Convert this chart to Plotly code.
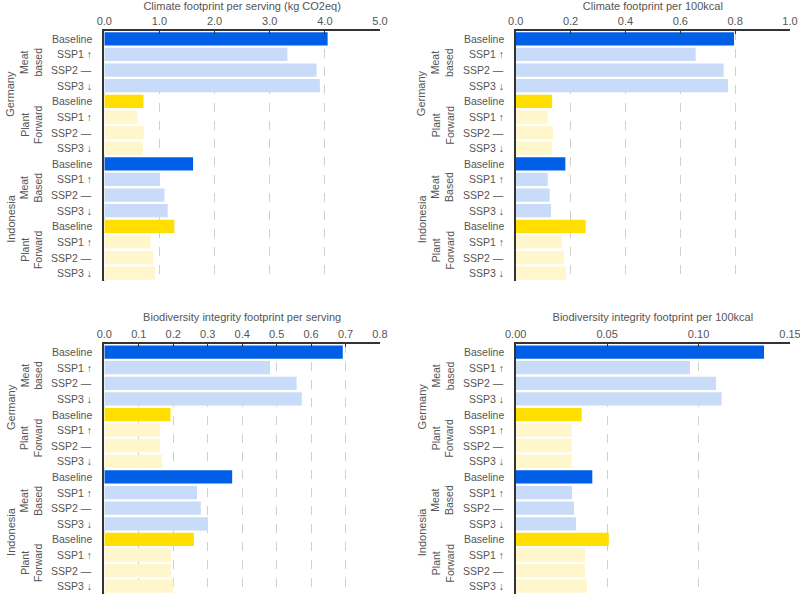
import plotly.graph_objects as go

# ---------------- data ----------------
countries = ["Germany", "Indonesia"]
diet_groups = {"Germany": ["Meat<br>based", "Plant<br>Forward"],
               "Indonesia": ["Meat<br>Based", "Plant<br>Forward"]}
diet_kind = ["meat", "plant"]
scenarios = ["Baseline", "SSP1 ↑", "SSP2 —", "SSP3 ↓"]

climate_serving = [4.05, 3.32, 3.85, 3.91, 0.71, 0.60, 0.72, 0.70,
                   1.61, 1.01, 1.09, 1.15, 1.27, 0.84, 0.88, 0.92]
climate_100kcal = [0.796, 0.656, 0.758, 0.774, 0.133, 0.116, 0.136, 0.133,
                   0.181, 0.117, 0.124, 0.129, 0.255, 0.168, 0.176, 0.183]
bio_serving = [0.692, 0.481, 0.558, 0.573, 0.192, 0.161, 0.161, 0.168,
               0.371, 0.269, 0.280, 0.301, 0.260, 0.193, 0.193, 0.200]
bio_100kcal = [0.1358, 0.0953, 0.1095, 0.1126, 0.0361, 0.0306, 0.0306, 0.0306,
               0.0419, 0.0308, 0.0319, 0.0330, 0.0509, 0.0379, 0.0379, 0.0390]

panel_titles = ["Climate footprint per serving (kg CO2eq)",
                "Climate footprint per 100kcal",
                "Biodiversity integrity footprint per serving",
                "Biodiversity integrity footprint per 100kcal"]
panel_values = [climate_serving, climate_100kcal, bio_serving, bio_100kcal]
ticks_climate_serving = [0, 1, 2, 3, 4, 5]
ticks_climate_100kcal = [0, 0.2, 0.4, 0.6, 0.8, 1.0]
ticks_bio_serving = [0, 0.1, 0.2, 0.3, 0.4, 0.5, 0.6, 0.7, 0.8]
ticks_bio_100kcal = [0, 0.05, 0.10, 0.15]
panel_ticks = [ticks_climate_serving, ticks_climate_100kcal, ticks_bio_serving, ticks_bio_100kcal]
panel_formats = [".1f", ".1f", ".1f", ".2f"]

# ---------------- styles ----------------
COLORS = {("meat", True): "#005FE6", ("meat", False): "#C8DCFA",
          ("plant", True): "#FFDE00", ("plant", False): "#FFF6CC"}
TXT = "#555555"
LINE = "#333333"
FONT = "Liberation Sans, Arial, sans-serif"

rows = []  # (country, kind, scenario)
for c in countries:
    for k in diet_kind:
        for s in scenarios:
            rows.append((c, k, s))
bar_colors = [COLORS[(k, s == "Baseline")] for (c, k, s) in rows]
ypos = list(range(len(rows)))

x_domains = [[0.1304, 0.4750], [0.6446, 0.9875], [0.1304, 0.4750], [0.6446, 0.9875]]
y_domains = [[0.5293, 0.9481], [0.5293, 0.9481], [0.005, 0.4233], [0.005, 0.4233]]

fig = go.Figure()
layout = dict(
    width=800, height=597, margin=dict(l=0, r=0, t=0, b=0, autoexpand=False),
    paper_bgcolor="white", plot_bgcolor="white", showlegend=False,
    font=dict(family=FONT, color=TXT, size=11), bargap=0.15,
)
annotations = []
shapes = []
for p in range(4):
    sx = "" if p == 0 else str(p + 1)
    xname, yname = "x" + sx, "y" + sx
    tv = panel_ticks[p]
    fig.add_trace(go.Bar(
        x=panel_values[p], y=ypos, orientation="h",
        marker=dict(color=bar_colors, line=dict(width=0)),
        xaxis=xname, yaxis=yname, hoverinfo="x",
    ))
    layout["xaxis" + sx] = dict(
        domain=x_domains[p], anchor=yname, side="top", range=[tv[0], tv[-1]],
        tickmode="array", tickvals=tv, ticktext=[format(v, panel_formats[p]) for v in tv],
        showline=True, linecolor=LINE, linewidth=1.5, automargin=False,
        ticklabeloverflow="allow",
        showgrid=True, gridcolor="#D0D0D0", griddash="dash", gridwidth=1,
        zeroline=False, ticks="inside", ticklen=3, tickcolor=LINE,
        tickfont=dict(size=11, color=TXT),
        title=dict(text=panel_titles[p], font=dict(size=11, color=TXT), standoff=4),
        fixedrange=True,
    )
    layout["yaxis" + sx] = dict(
        domain=y_domains[p], anchor=xname, range=[15.5, -0.5], automargin=False,
        showticklabels=False, showgrid=False, zeroline=False,
        showline=True, linecolor=LINE, linewidth=1.5, ticks="", fixedrange=True,
    )
    # scenario labels
    for i, (c, k, s) in enumerate(rows):
        annotations.append(dict(
            x=0, y=i, xref=xname, yref=yname, text=s, showarrow=False,
            xanchor="right", yanchor="middle", xshift=-10,
            font=dict(size=10.5, color=TXT)))
    # group and country labels
    for ci, c in enumerate(countries):
        annotations.append(dict(
            x=0, y=ci * 8 + 3.5, xref=xname, yref=yname, text=c, showarrow=False,
            textangle=-90, xanchor="center", yanchor="middle", xshift=-94,
            font=dict(size=11, color=TXT)))
        for gi, g in enumerate(diet_groups[c]):
            annotations.append(dict(
                x=0, y=ci * 8 + gi * 4 + 1.5, xref=xname, yref=yname, text=g,
                showarrow=False, textangle=-90, xanchor="center", yanchor="middle",
                xshift=-73, font=dict(size=10.5, color=TXT)))
    # separator lines
    for yb, x0 in [(-0.5, -104), (3.5, -87), (7.5, -104), (11.5, -87), (15.5, -104)]:
        shapes.append(dict(
            type="line", xref=xname, yref=yname, xsizemode="pixel", xanchor=0,
            x0=x0, x1=0, y0=yb, y1=yb, line=dict(color=LINE, width=1.5)))

layout["annotations"] = annotations
layout["shapes"] = shapes
fig.update_layout(**layout)
fig.write_html(
    "out.html",
    config={"displayModeBar": False},
    post_script="document.body.style.margin='0';document.body.style.overflow='hidden';",
)
